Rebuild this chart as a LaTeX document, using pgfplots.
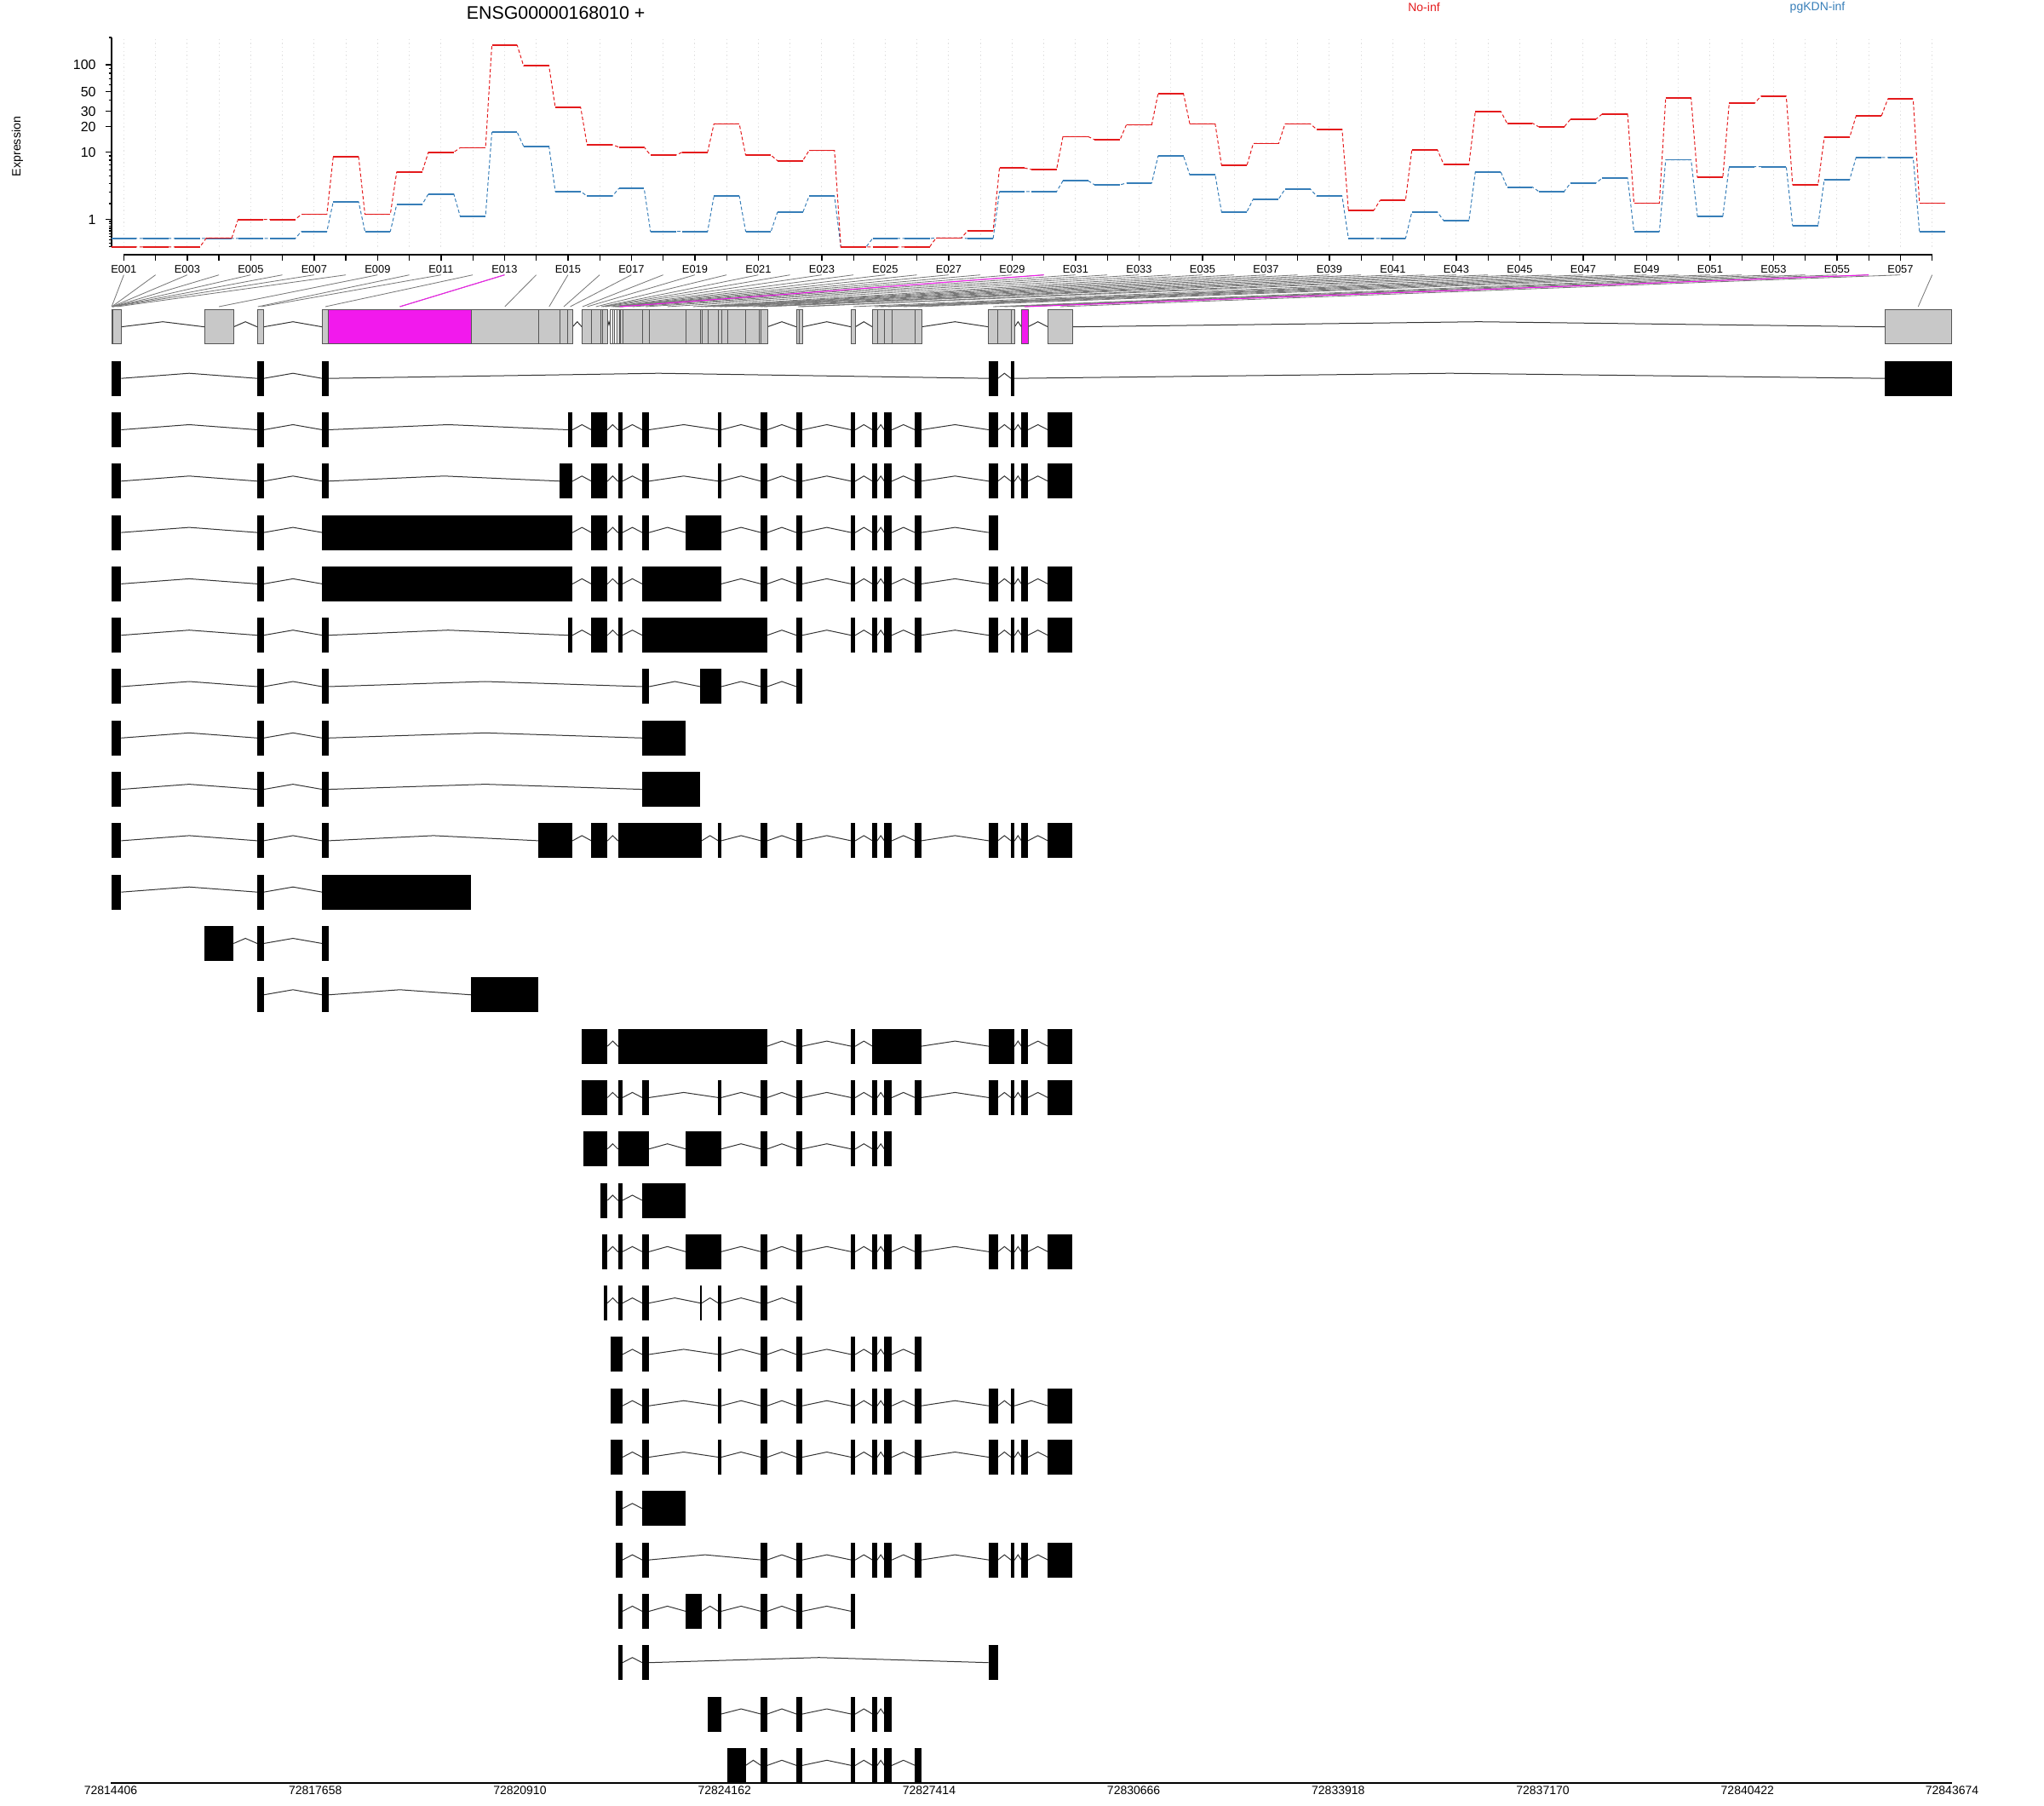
\documentclass[border=0pt]{standalone}
\usepackage{pgfplots}
\pgfplotsset{compat=1.18}
\usepackage{pgfplotstable}
\usepackage{fontspec}
\setmainfont{Liberation Sans}
\definecolor{cred}{HTML}{E41A1C}
\definecolor{cblue}{HTML}{377EB8}
\definecolor{cmag}{RGB}{242,25,237}
\definecolor{cgray}{RGB}{200,200,200}
\definecolor{cedge}{RGB}{85,85,85}
\definecolor{cfan}{RGB}{120,120,120}

% expression per exonic part
\pgfplotstableread{
i red blue
1 0 0.236
2 0 0.236
3 0 0.236
4 0.25 0.24
5 1.0 0.236
6 1.0 0.236
7 1.28 0.479
8 8.75 2.13
9 1.28 0.479
10 5.65 1.91
11 10.0 2.82
12 11.3 1.18
13 163.8 17.2
14 97 11.8
15 33.1 3.08
16 12.3 2.61
17 11.5 3.38
18 9.2 0.479
19 10.0 0.479
20 21.5 2.61
21 9.2 0.479
22 7.87 1.39
23 10.5 2.61
24 0 0
25 0 0.236
26 0 0.236
27 0.25 0.25
28 0.51 0.236
29 6.36 3.05
30 6.1 3.05
31 15.3 4.32
32 14.1 3.81
33 21.0 4.03
34 47.5 9.0
35 21.5 5.19
36 6.9 1.43
37 12.7 2.36
38 21.5 3.31
39 18.6 2.61
40 1.52 0.236
41 2.26 0.236
42 10.75 1.43
43 7.13 0.945
44 30.0 5.7
45 21.9 3.54
46 19.9 3.07
47 24.4 4.03
48 27.9 4.72
49 2.02 0.47
50 42.5 8.07
51 4.81 1.17
52 36.9 6.63
53 44.4 6.63
54 3.81 0.71
55 15.1 4.52
56 26.5 8.6
57 41.3 8.6
58 2.02 0.47
}\exprtab

% gene model exonic parts (picture units), col: 0 grey, 1 magenta, 2 white
\pgfplotstableread{
i s e col
1 131.00 131.24 2
2 131.24 131.48 2
3 131.48 131.72 2
4 131.72 131.96 2
5 131.96 132.20 0
6 132.20 132.45 0
7 132.45 132.70 0
8 132.70 142.30 0
9 240.0 274.3 0
10 302.0 303.5 0
11 303.5 309.7 0
12 378.3 385.7 0
13 385.7 553.3 1
14 553.3 632.3 0
15 632.3 657.3 0
16 657.3 666.7 0
17 666.7 672.3 0
18 683.3 684.7 0
19 684.7 694.3 0
20 694.3 705.0 0
21 705.0 707.3 0
22 707.3 708.5 0
23 708.5 713.3 0
24 716.7 719.0 2
25 719.0 721.0 2
26 721.0 722.7 2
27 722.7 724.0 2
28 724.0 725.5 2
29 725.5 727.0 0
30 727.0 728.0 1
31 728.0 731.0 0
32 731.0 754.0 0
33 754.0 762.3 0
34 762.3 805.0 0
35 805.0 822.3 0
36 822.3 824.0 0
37 824.0 831.0 0
38 831.0 843.3 0
39 843.3 847.0 0
40 847.0 854.0 0
41 854.0 875.7 0
42 875.7 891.7 0
43 891.7 893.3 0
44 893.3 901.0 0
45 935.0 938.7 0
46 938.7 942.3 0
47 999.3 1004.3 0
48 1024.3 1030.0 0
49 1030.0 1038.3 0
50 1038.3 1047.3 0
51 1047.3 1074.3 0
52 1074.3 1082.0 0
53 1160.7 1171.7 0
54 1171.7 1187.0 0
55 1187.0 1191.3 0
56 1199.3 1207.0 1
57 1230.3 1259.0 0
58 2213.0 2291.5 0
}\genetab

\pgfplotsset{
  intronline/.style={draw=black!80, line width=0.3pt},
  exonbox/.style={draw=black, line width=12.3pt, line cap=butt},
}

\newcommand\txbuild[1]{%
  \gdef\icoords{}\gdef\ecoords{}\gdef\prevE{}%
  \foreach \sa/\ea in {#1}{%
    \ifx\prevE\empty\else
      \pgfmathsetmacro\midx{(\prevE+\sa)/2}%
      \xdef\icoords{\icoords(\prevE,\ry)(\midx,\pk)(\sa,\ry)}%
    \fi
    \xdef\ecoords{\ecoords(\sa,\ry)(\ea,\ry)(\ea,nan)}%
    \xdef\prevE{\ea}%
  }}
\newcommand\tx[2]{%
  \pgfmathsetmacro\ry{444.2+(#1-1)*60.3}%
  \pgfmathsetmacro\pk{\ry-6}%
  \txbuild{#2}%
  \edef\tmp{\noexpand\addplot[intronline] coordinates {\icoords};
    \noexpand\addplot[exonbox, unbounded coords=jump] coordinates {\ecoords};}%
  \tmp}

% expression step lines on the log10(x+1) scale of the plot
\newcommand\buildexpr[1]{%
  \gdef\dcoords{}\gdef\scoords{}%
  \pgfplotstableforeachcolumnelement{#1}\of\exprtab\as\cell{%
    \pgfmathsetmacro\xl{\pgfplotstablerow+0.6}%
    \pgfmathsetmacro\xr{\pgfplotstablerow+1.4}%
    \pgfmathsetmacro\uu{log10(\cell+1)}%
    \xdef\dcoords{\dcoords(\xl,\uu)(\xr,\uu)}%
    \xdef\scoords{\scoords(\xl,\uu)(\xr,\uu)(\xr,nan)}%
  }}

\begin{document}
\begin{tikzpicture}
\useasboundingbox (0,0) rectangle (720pt,636pt);
% ---------- gene model, transcripts, genomic axis (picture units) ----------
\begin{axis}[at={(0,0)}, anchor=south west, scale only axis,
  width=720pt, height=636pt, xmin=0, xmax=2400, ymin=0, ymax=2120,
  y dir=reverse, hide axis, clip=false]
% fan lines from exon labels to exonic parts
\addplot[cfan, line width=0.25pt,
  quiver={u={(\thisrow{s}+\thisrow{e})/2-145.4-(\thisrow{i}-1)*37.25}, v=37.3}]
  table[x expr={145.4+(\thisrow{i}-1)*37.25}, y expr=322.7] {\genetab};
\addplot[cmag, line width=0.3pt, unbounded coords=discard,
  restrict expr to domain={\thisrow{col}}{1:1},
  quiver={u={(\thisrow{s}+\thisrow{e})/2-145.4-(\thisrow{i}-1)*37.25}, v=37.3}]
  table[x expr={145.4+(\thisrow{i}-1)*37.25}, y expr=322.7] {\genetab};
% gene model introns
\def\ry{383.7}\def\pk{377.7}%
\txbuild{131/142.3,240/274.3,302/309.7,378.3/672.3,683.3/713.3,716.7/901,935/942.3,999.3/1004.3,1024.3/1082,1160.7/1191.3,1199.3/1207,1230.3/1259,2213/2291.5}%
\edef\tmp{\noexpand\addplot[intronline] coordinates {\icoords};}\tmp
% gene model parts: outline then fill
\addplot[cedge, line width=12.2pt, line cap=butt, quiver={u={\thisrow{e}-\thisrow{s}+1}, v=0}]
  table[x expr={\thisrow{s}-0.5}, y expr=383.7] {\genetab};
\addplot[cgray, line width=11.6pt, line cap=butt, unbounded coords=discard,
  restrict expr to domain={\thisrow{col}}{0:0},
  quiver={u={max(\thisrow{e}-\thisrow{s}-1,0)}, v=0}]
  table[x expr={\thisrow{s}+0.5}, y expr=383.7] {\genetab};
\addplot[cmag, line width=11.6pt, line cap=butt, unbounded coords=discard,
  restrict expr to domain={\thisrow{col}}{1:1},
  quiver={u={max(\thisrow{e}-\thisrow{s}-1,0)}, v=0}]
  table[x expr={\thisrow{s}+0.5}, y expr=383.7] {\genetab};
\addplot[white, line width=11.6pt, line cap=butt, unbounded coords=discard,
  restrict expr to domain={\thisrow{col}}{2:2},
  quiver={u={max(\thisrow{e}-\thisrow{s}-1,0)}, v=0}]
  table[x expr={\thisrow{s}+0.5}, y expr=383.7] {\genetab};
% transcripts
\tx{1}{131/142.3,302/309.7,378.3/385.7,1160.7/1171.7,1187/1191.3,2213/2291.5}
\tx{2}{131/142.3,302/309.7,378.3/385.7,666.7/672.3,694.3/713.3,725.5/731,754/762.3,843.3/847,893.3/901,935/942.3,999.3/1004.3,1024.3/1030,1038.3/1047.3,1074.3/1082,1160.7/1171.7,1187/1191.3,1199.3/1207,1230.3/1259}
\tx{3}{131/142.3,302/309.7,378.3/385.7,657.3/672.3,694.3/713.3,725.5/731,754/762.3,843.3/847,893.3/901,935/942.3,999.3/1004.3,1024.3/1030,1038.3/1047.3,1074.3/1082,1160.7/1171.7,1187/1191.3,1199.3/1207,1230.3/1259}
\tx{4}{131/142.3,302/309.7,378.3/672.3,694.3/713.3,725.5/731,754/762.3,805/847,893.3/901,935/942.3,999.3/1004.3,1024.3/1030,1038.3/1047.3,1074.3/1082,1160.7/1171.7}
\tx{5}{131/142.3,302/309.7,378.3/672.3,694.3/713.3,725.5/731,754/847,893.3/901,935/942.3,999.3/1004.3,1024.3/1030,1038.3/1047.3,1074.3/1082,1160.7/1171.7,1187/1191.3,1199.3/1207,1230.3/1259}
\tx{6}{131/142.3,302/309.7,378.3/385.7,666.7/672.3,694.3/713.3,725.5/731,754/901,935/942.3,999.3/1004.3,1024.3/1030,1038.3/1047.3,1074.3/1082,1160.7/1171.7,1187/1191.3,1199.3/1207,1230.3/1259}
\tx{7}{131/142.3,302/309.7,378.3/385.7,754/762.3,822.3/847,893.3/901,935/942.3}
\tx{8}{131/142.3,302/309.7,378.3/385.7,754/805}
\tx{9}{131/142.3,302/309.7,378.3/385.7,754/822.3}
\tx{10}{131/142.3,302/309.7,378.3/385.7,632.3/672.3,694.3/713.3,725.5/824,843.3/847,893.3/901,935/942.3,999.3/1004.3,1024.3/1030,1038.3/1047.3,1074.3/1082,1160.7/1171.7,1187/1191.3,1199.3/1207,1230.3/1259}
\tx{11}{131/142.3,302/309.7,378.3/553.3}
\tx{12}{240/274.3,302/309.7,378.3/385.7}
\tx{13}{302/309.7,378.3/385.7,553.3/632.3}
\tx{14}{683.3/713.3,725.5/901,935/942.3,999.3/1004.3,1024.3/1082,1160.7/1191.3,1199.3/1207,1230.3/1259}
\tx{15}{683.3/713.3,725.5/731,754/762.3,843.3/847,893.3/901,935/942.3,999.3/1004.3,1024.3/1030,1038.3/1047.3,1074.3/1082,1160.7/1171.7,1187/1191.3,1199.3/1207,1230.3/1259}
\tx{16}{684.7/713.3,725.5/762.3,805/847,893.3/901,935/942.3,999.3/1004.3,1024.3/1030,1038.3/1047.3}
\tx{17}{705/713.3,725.5/731,754/805}
\tx{18}{707.3/713.3,725.5/731,754/762.3,805/847,893.3/901,935/942.3,999.3/1004.3,1024.3/1030,1038.3/1047.3,1074.3/1082,1160.7/1171.7,1187/1191.3,1199.3/1207,1230.3/1259}
\tx{19}{708.5/713.3,725.5/731,754/762.3,822.3/824,843.3/847,893.3/901,935/942.3}
\tx{20}{716.7/731,754/762.3,843.3/847,893.3/901,935/942.3,999.3/1004.3,1024.3/1030,1038.3/1047.3,1074.3/1082}
\tx{21}{716.7/731,754/762.3,843.3/847,893.3/901,935/942.3,999.3/1004.3,1024.3/1030,1038.3/1047.3,1074.3/1082,1160.7/1171.7,1187/1191.3,1230.3/1259}
\tx{22}{716.7/731,754/762.3,843.3/847,893.3/901,935/942.3,999.3/1004.3,1024.3/1030,1038.3/1047.3,1074.3/1082,1160.7/1171.7,1187/1191.3,1199.3/1207,1230.3/1259}
\tx{23}{722.7/731,754/805}
\tx{24}{722.7/731,754/762.3,893.3/901,935/942.3,999.3/1004.3,1024.3/1030,1038.3/1047.3,1074.3/1082,1160.7/1171.7,1187/1191.3,1199.3/1207,1230.3/1259}
\tx{25}{725.5/731,754/762.3,805/824,843.3/847,893.3/901,935/942.3,999.3/1004.3}
\tx{26}{725.5/731,754/762.3,1160.7/1171.7}
\tx{27}{831/847,893.3/901,935/942.3,999.3/1004.3,1024.3/1030,1038.3/1047.3}
\tx{28}{854/875.7,893.3/901,935/942.3,999.3/1004.3,1024.3/1030,1038.3/1047.3,1074.3/1082}
% genomic axis
\addplot[black, line width=0.6pt] coordinates {(130,2093)(2292,2093)};
\begin{scope}[every node/.style={font=\fontsize{4.2}{5}\selectfont, anchor=north, inner sep=0pt}]
\node at (axis cs:130,2096) {72814406};
\node at (axis cs:370.2,2096) {72817658};
\node at (axis cs:610.4,2096) {72820910};
\node at (axis cs:850.7,2096) {72824162};
\node at (axis cs:1090.9,2096) {72827414};
\node at (axis cs:1331.1,2096) {72830666};
\node at (axis cs:1571.3,2096) {72833918};
\node at (axis cs:1811.5,2096) {72837170};
\node at (axis cs:2051.8,2096) {72840422};
\node at (axis cs:2292,2096) {72843674};
\end{scope}
% titles
\node[font=\fontsize{6.4}{7.5}\selectfont] at (axis cs:652.6,15) {ENSG00000168010 +};
\node[font=\fontsize{4.2}{5}\selectfont, text=cred] at (axis cs:1672,9) {No-inf};
\node[font=\fontsize{4.2}{5}\selectfont, text=cblue] at (axis cs:2134,9) {pgKDN-inf};
\node[font=\fontsize{4.25}{5}\selectfont, rotate=90] at (axis cs:20.4,172) {Expression};
\end{axis}
% ---------- expression panel (y = log10(expression+1)) ----------
\begin{axis}[at={(39.3pt,549.06pt)}, anchor=south west, scale only axis,
  width=645.78pt, height=73.73pt,
  xmin=0.6134, xmax=58.4, ymin=0, ymax=2.30320,
  axis x line*=bottom, axis y line*=left,
  x axis line style={-, line width=0.4pt, yshift=-2.76pt, shorten <=4.32pt, shorten >=4.47pt},
  y axis line style={-, line width=0.4pt},
  xtick={1,...,58},
  xticklabels={E001,{},E003,{},E005,{},E007,{},E009,{},E011,{},E013,{},E015,{},E017,{},E019,{},E021,{},E023,{},E025,{},E027,{},E029,{},E031,{},E033,{},E035,{},E037,{},E039,{},E041,{},E043,{},E045,{},E047,{},E049,{},E051,{},E053,{},E055,{},E057,{}},
  xtick style={black, line width=0.4pt, yshift=-2.76pt},
  ytick={0.30103,1.04139,1.32222,1.49136,1.70757,2.00432},
  yticklabels={1,10,20,30,50,100},
  minor ytick={0,0.04139,0.07918,0.11394,0.14613,0.17609,0.20412,0.23045,0.25527,0.27875,0.47712,0.60206,0.69897,0.77815,0.84510,0.90309,0.95424,1.0,1.61278,1.78533,1.85126,1.90849,1.95904,2.30320},
  ytick style={black, line width=0.4pt},
  minor tick style={black, line width=0.4pt},
  tick align=outside, major tick length=2pt, minor tick length=1pt,
  xticklabel style={font=\fontsize{3.85}{4.6}\selectfont, yshift=-0.96pt},
  yticklabel style={font=\fontsize{4.8}{5.8}\selectfont},
  xmajorgrids, major x grid style={black!12, densely dotted, line width=0.3pt},
  clip=false]
\buildexpr{blue}%
\edef\tmp{\noexpand\addplot[cblue, line width=0.3pt, dash pattern=on 1.2pt off 0.8pt] coordinates {\dcoords};
  \noexpand\addplot[cblue, line width=0.55pt, unbounded coords=jump] coordinates {\scoords};}\tmp
\buildexpr{red}%
\edef\tmp{\noexpand\addplot[cred, line width=0.3pt, dash pattern=on 1.2pt off 0.8pt] coordinates {\dcoords};
  \noexpand\addplot[cred, line width=0.55pt, unbounded coords=jump] coordinates {\scoords};}\tmp
\end{axis}
\end{tikzpicture}
\end{document}
